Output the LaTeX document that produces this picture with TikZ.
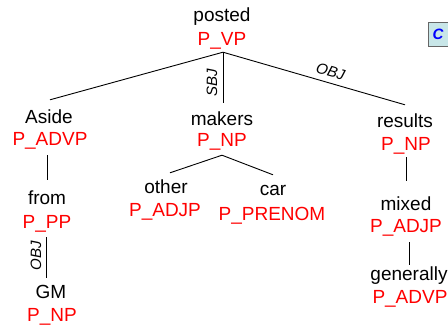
\documentclass[tikz,border=0pt]{standalone}
\usepackage{fontspec}
\setmainfont{Liberation Sans}
\begin{document}
\begin{tikzpicture}[x=1pt,y=-1pt,
  word/.style={font=\fontsize{19}{23}\selectfont, text=black, anchor=base,
                inner sep=0pt, text height=14pt, text depth=4pt},
  tag/.style={word, text=red},
  rel/.style={font=\fontsize{15}{18}\selectfont\itshape, inner sep=0pt, anchor=center},
  arc/.style={draw=black, line width=0.9pt}]
\useasboundingbox (0,0) rectangle (448,327);

% legend box (runs off the right edge)
\node[draw=black!60, line width=1.2pt, fill={rgb,255:red,200;green,230;blue,232},
      anchor=north west, minimum width=60pt, minimum height=24pt,
      inner sep=3pt, text width=52pt, align=left,
      font=\fontsize{15}{18}\selectfont\bfseries\itshape, text=blue]
      (legend) at (428,22) {C};

% words and their phrase tags
\node[word] (posted) at (222,21) {posted};
\node[tag]  (postedT) at (222,45.6) {P\_VP};

\node[word] (aside) at (49,123) {Aside};
\node[tag]  (asideT) at (50,145.6) {P\_ADVP};

\node[word] (makers) at (222,125) {makers};
\node[tag]  (makersT) at (222,146.6) {P\_NP};

\node[word] (results) at (405,127) {results};
\node[tag]  (resultsT) at (406,150.6) {P\_NP};

\node[word] (from) at (47,204) {from};
\node[tag]  (fromT) at (47,228.6) {P\_PP};

\node[word] (gm) at (51,298.6) {GM};
\node[tag]  (gmT) at (52,321.6) {P\_NP};

\node[word] (other) at (166,193) {other};
\node[tag]  (otherT) at (165,216.6) {P\_ADJP};

\node[word] (car) at (273,195) {car};
\node[tag]  (carT) at (272,220) {P\_PRENOM};

\node[word] (mixed) at (406,210) {mixed};
\node[tag]  (mixedT) at (406,232.6) {P\_ADJP};

\node[word] (generally) at (409,280) {generally};
\node[tag]  (generallyT) at (410,303.6) {P\_ADVP};

% dependency arcs
\draw[arc] ([xshift=1pt,yshift=-2.4pt]postedT.south) -- ([xshift=1pt,yshift=9pt]aside.north);
\draw[arc] ([xshift=1pt,yshift=-2.4pt]postedT.south) -- ([xshift=1pt,yshift=8pt]makers.north);
\draw[arc] ([xshift=1pt,yshift=-2.4pt]postedT.south) -- ([yshift=8pt]results.north);

\draw[arc] ([xshift=-3pt,yshift=-5.4pt]asideT.south) -- ([yshift=10pt]from.north);
\draw[arc] ([xshift=-1pt,yshift=-4.4pt]fromT.south) -- ([xshift=-5pt,yshift=6.6pt]gm.north);

\draw[arc] ([yshift=-4.4pt]makersT.south) -- ([xshift=4pt,yshift=6pt]other.north);
\draw[arc] ([yshift=-4.4pt]makersT.south) -- ([yshift=6pt]car.north);

\draw[arc] ([yshift=-2.4pt]resultsT.south) -- ([yshift=15pt]mixed.north);
\draw[arc] ([xshift=3pt,yshift=-5.4pt]mixedT.south) -- ([yshift=1pt]generally.north);

% relation labels
\node[rel, rotate=90] (sbj) at (212,83) {SBJ};
\node[rel, rotate=-16.3] (obj) at (330.5,71.5) {OBJ};
\node[rel, rotate=90] (obj2) at (36,256) {OBJ};
\end{tikzpicture}
\end{document}
